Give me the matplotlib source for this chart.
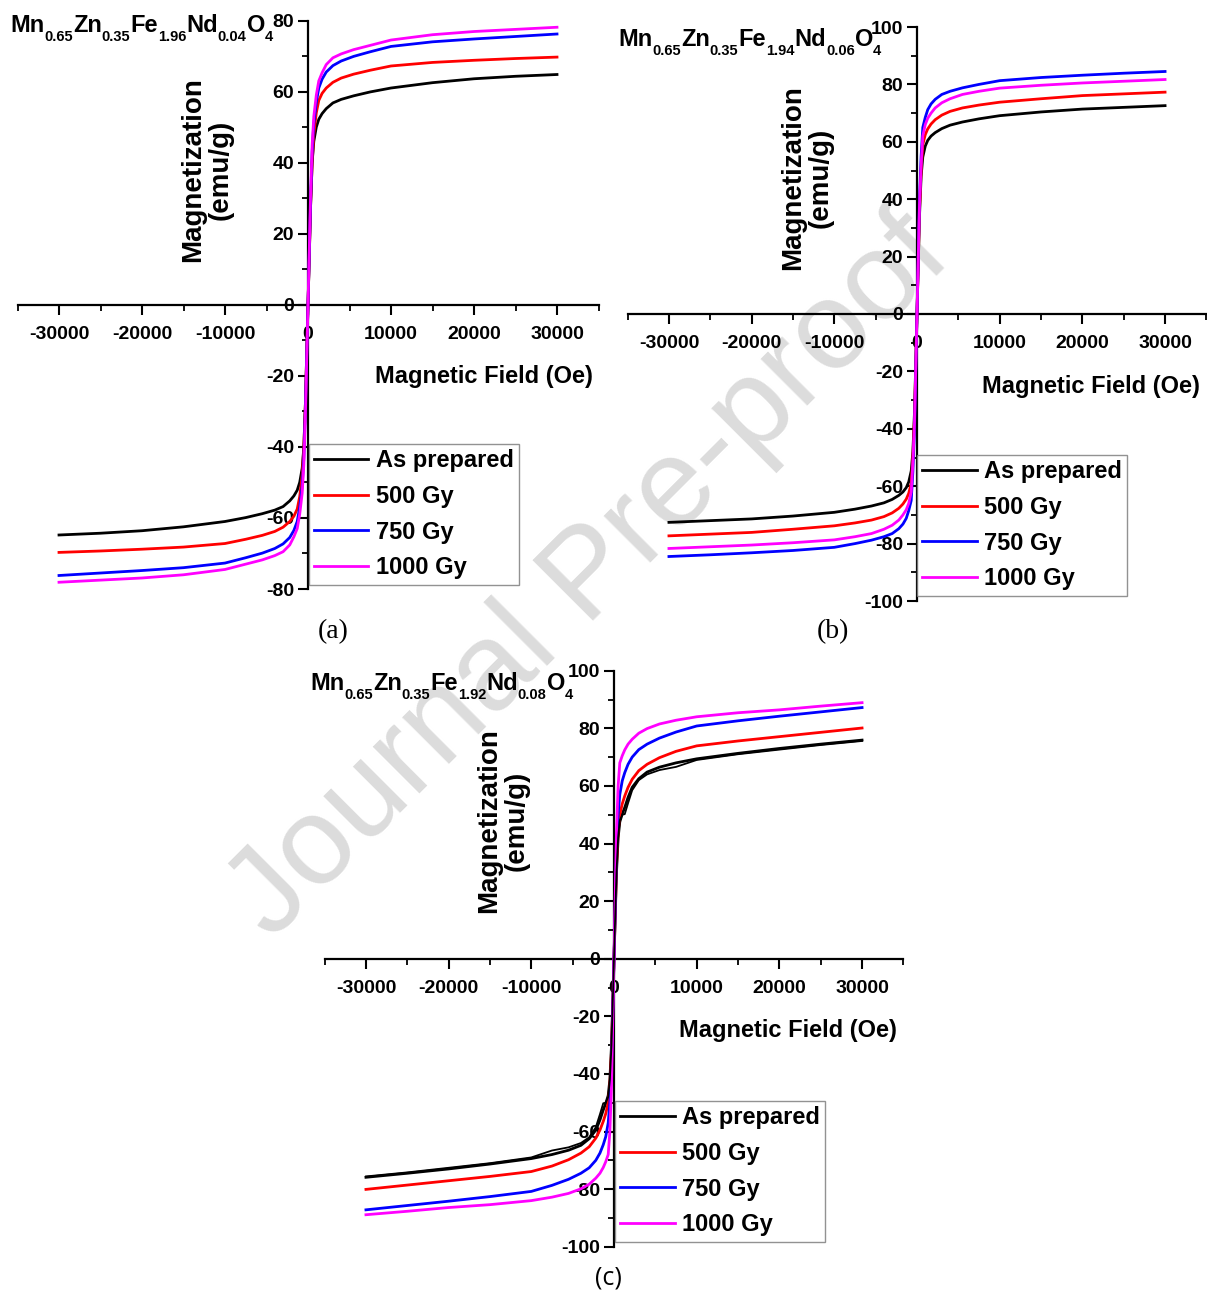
#!/usr/bin/env python
# coding=utf-8
"""
M-H curves of Mn-Zn-Nd ferrites, as prepared and after gamma irradiation
"""

import numpy as np
import matplotlib
matplotlib.use('Agg')
import matplotlib.pyplot as plt
from matplotlib.ticker import MultipleLocator
from matplotlib.transforms import IdentityTransform

plt.rcParams['font.family'] = 'Liberation Sans'
plt.rcParams['font.weight'] = 'bold'
plt.rcParams['axes.unicode_minus'] = False

#  Magnetic field in Oe (positive branch, curves are point symmetric)
field = [0, 150, 300, 500, 700, 1000, 1300, 1700, 2200, 3000, 4000, 5500,
         7500, 10000, 15000, 20000, 25000, 30000]

labels = ['As prepared', '500 Gy', '750 Gy', '1000 Gy']
colors = ['black', 'red', 'blue', 'magenta']

#  Panel (a): Nd 0.04, magnetization in emu/g
m_a_prep = [0, 13, 27, 40, 46, 50, 52.2, 53.8, 55.2, 56.8, 57.8, 58.8, 59.9,
            61, 62.5, 63.6, 64.3, 64.8]
m_a_500 = [0, 13, 27, 40, 48, 54, 57.5, 59.5, 61, 62.6, 63.8, 64.9, 66,
           67.2, 68.2, 68.8, 69.3, 69.7]
m_a_750 = [0, 14, 28, 43, 51, 57, 61, 63.5, 65.5, 67.3, 68.6, 69.9, 71.2,
           72.7, 74, 74.8, 75.5, 76.2]
m_a_1000 = [0, 15, 30, 45, 53, 59, 63, 65.3, 67.6, 69.5, 70.6, 71.8, 73,
            74.5, 76, 76.9, 77.5, 78.1]

#  Panel (b): Nd 0.06
m_b_prep = [0, 17, 34, 48, 54.7, 58.5, 60.5, 62, 63.2, 64.6, 65.8, 66.9, 68,
            69.1, 70.4, 71.4, 72, 72.6]
m_b_500 = [0, 18, 36, 50, 59, 62.5, 64.5, 66.2, 67.7, 69.3, 70.6, 71.8, 72.8,
           73.8, 75, 76.1, 76.7, 77.3]
m_b_750 = [0, 20, 40, 55, 65, 68.5, 71.2, 73.2, 74.8, 76.5, 77.6, 78.8, 80,
           81.3, 82.4, 83.2, 83.9, 84.5]
m_b_1000 = [0, 19, 38, 52, 62, 66, 68.2, 70, 71.8, 73.6, 75, 76.5, 77.6,
            78.7, 79.7, 80.5, 81.1, 81.7]

#  Panel (c): Nd 0.08 (as prepared shows two slightly different branches)
m_c_prep = [0, 15, 30, 42, 47.5, 50.3, 52.5, 56, 59.5, 62.5, 64.8, 66.5, 68,
            69.4, 71.3, 73, 74.5, 75.9]
m_c_prep2 = [0, 15, 30, 42, 48, 50, 50.2, 54, 58.5, 62, 64, 65.5, 66.6, 69,
             71, 72.6, 74.2, 75.6]
m_c_500 = [0, 16, 32, 44, 50, 53.8, 56.5, 59.5, 62.3, 65.3, 67.5, 69.8, 72,
           73.9, 75.6, 77.1, 78.6, 80.1]
m_c_750 = [0, 18, 36, 50, 57, 61.8, 64.6, 67.5, 70, 72.6, 74.5, 76.6, 78.7,
           80.8, 82.6, 84.2, 85.7, 87.2]
m_c_1000 = [0, 22, 44, 60, 68, 70.5, 72.5, 74.5, 76.2, 78.3, 79.9, 81.5,
            82.8, 84, 85.4, 86.4, 87.7, 88.9]

#  Sample formulas: (element, index)
formula_a = [('Mn', '0.65'), ('Zn', '0.35'), ('Fe', '1.96'), ('Nd', '0.04'),
             ('O', '4')]
formula_b = [('Mn', '0.65'), ('Zn', '0.35'), ('Fe', '1.94'), ('Nd', '0.06'),
             ('O', '4')]
formula_c = [('Mn', '0.65'), ('Zn', '0.35'), ('Fe', '1.92'), ('Nd', '0.08'),
             ('O', '4')]

W, H = 1207, 1294


def full_loop(h, m):
    """Return both branches of the loop from the positive branch."""
    h = np.asarray(h, dtype=float)
    m = np.asarray(m, dtype=float)
    return (np.concatenate([-h[::-1], h[1:]]),
            np.concatenate([-m[::-1], m[1:]]))


def px(x, y):
    """Pixel position (from top left) to figure fraction."""
    return x / W, 1 - y / H


def draw_formula(fig, renderer, x, y, formula, size=17, sub_size=10.5,
                 sub_drop=9):
    """Write a chemical formula with subscripts, x/y in pixels."""
    for elem, idx in formula:
        t = fig.text(x, H - y, elem, fontsize=size, ha='left',
                     va='baseline', transform=IdentityTransform())
        x += t.get_window_extent(renderer).width
        t = fig.text(x, H - y - sub_drop, idx, fontsize=sub_size,
                     ha='left', va='baseline', transform=IdentityTransform())
        x += t.get_window_extent(renderer).width


def draw_panel(fig, box, ymax, series, xlab_xy, ylab_xy, leg_xy, extra=None):
    left, top, right, bottom = box
    ax = fig.add_axes([left / W, 1 - bottom / H, (right - left) / W,
                       (bottom - top) / H])
    ax.patch.set_alpha(0)

    for m, c, lab in zip(series, colors, labels):
        hx, my = full_loop(field, m)
        ax.plot(hx, my, color=c, lw=2.0, label=lab, zorder=3)
    if extra is not None:
        hx, my = full_loop(field, extra)
        ax.plot(hx, my, color='black', lw=1.3, zorder=3)

    ax.set_xlim(-35000, 35000)
    ax.set_ylim(-ymax, ymax)
    ax.spines['left'].set_position(('data', 0))
    ax.spines['bottom'].set_position(('data', 0))
    ax.spines['right'].set_visible(False)
    ax.spines['top'].set_visible(False)
    for s in ['left', 'bottom']:
        ax.spines[s].set_linewidth(1.6)

    ax.set_xticks(np.arange(-30000, 30001, 10000))
    ax.xaxis.set_minor_locator(MultipleLocator(5000))
    ax.set_yticks(np.arange(-ymax, ymax + 1, 20))
    ax.yaxis.set_minor_locator(MultipleLocator(10))
    ax.tick_params(which='major', direction='out', length=7, width=1.5,
                   labelsize=14)
    ax.tick_params(which='minor', direction='out', length=4, width=1.3)
    ax.tick_params(axis='x', pad=8)
    ax.tick_params(axis='y', pad=3)

    fig.text(*px(*xlab_xy), 'Magnetic Field (Oe)', fontsize=17,
             ha='center', va='center')
    fig.text(*px(*ylab_xy), 'Magnetization\n(emu/g)', fontsize=20,
             rotation=90, ha='center', va='center', multialignment='center',
             linespacing=1.05)

    leg = ax.legend(loc='upper left', bbox_to_anchor=px(*leg_xy),
                    bbox_transform=fig.transFigure, fontsize=17,
                    frameon=True, fancybox=False, edgecolor='#777777',
                    handlelength=2.3, handletextpad=0.3, labelspacing=0.54,
                    borderpad=0.22, borderaxespad=0)
    leg.get_frame().set_linewidth(1.0)
    return ax


fig = plt.figure(figsize=(W / 100, H / 100), dpi=100)
renderer = fig.canvas.get_renderer()

fig.text(*px(590, 578), 'Journal Pre-proof', fontsize=90, rotation=45,
         color='#dcdcdc', ha='center', va='center', fontweight='normal',
         zorder=-1)

draw_panel(fig, (17.5, 20.5, 598.5, 589), 80,
           [m_a_prep, m_a_500, m_a_750, m_a_1000],
           (484, 377), (207, 170), (309, 444))
draw_formula(fig, renderer, 10, 32, formula_a)

draw_panel(fig, (627.6, 27, 1206.4, 601), 100,
           [m_b_prep, m_b_500, m_b_750, m_b_1000],
           (1091, 386), (807, 178), (917, 455))
draw_formula(fig, renderer, 618, 46, formula_b)

draw_panel(fig, (324.6, 670.7, 903.4, 1246.7), 100,
           [m_c_prep, m_c_500, m_c_750, m_c_1000],
           (788, 1031), (503, 821), (615, 1101), extra=m_c_prep2)
draw_formula(fig, renderer, 310, 690, formula_c)

fig.text(*px(333, 632), '(a)', fontsize=20, family='Liberation Serif',
         fontweight='normal', ha='center', va='center')
fig.text(*px(833, 632), '(b)', fontsize=20, family='Liberation Serif',
         fontweight='normal', ha='center', va='center')
fig.text(*px(608, 1278), '(c)', fontsize=18, family='Open Sans',
         fontweight='normal', ha='center', va='center')

fig.savefig('out.png', dpi=100, facecolor='white')
